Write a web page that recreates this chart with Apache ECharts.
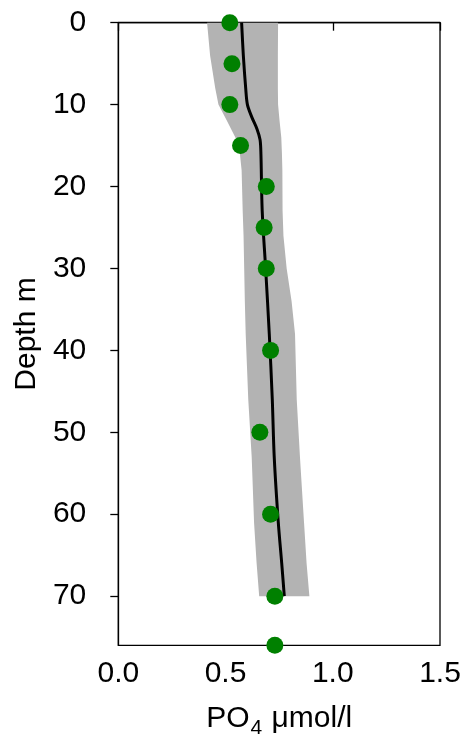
<!DOCTYPE html>
<html>
<head>
<meta charset="utf-8">
<script src="https://cdn.jsdelivr.net/npm/echarts@6/dist/echarts.min.js"></script>
<style>
  html, body { margin: 0; padding: 0; background: #fff; }
  #chart { width: 467px; height: 736px; }
</style>
</head>
<body>
<div id="chart"></div>
<script>
// Axis ticks
const depthTicks = [0, 10, 20, 30, 40, 50, 60, 70];
const po4Ticks = [0, 0.5, 1.0, 1.5];

// Measured phosphate samples
const sampleDepth = [0, 5, 10, 15, 20, 25, 30, 40, 50, 60, 70, 76];
const samplePO4 = [0.52, 0.53, 0.52, 0.57, 0.69, 0.68, 0.69, 0.71, 0.66, 0.71, 0.73, 0.73];

// Fitted profile
const fitDepth = [0, 4, 8, 10, 11.5, 13, 14.3, 16, 23, 30, 38, 46, 53, 61, 66, 70];
const fitPO4 = [0.575, 0.583, 0.594, 0.602, 0.622, 0.647, 0.661, 0.665, 0.671, 0.687, 0.704, 0.718, 0.727, 0.746, 0.762, 0.774];

// Uncertainty band around the fit
const bandDepth = [0, 4, 8, 10, 12, 14, 16, 18, 23, 26, 30, 34, 38, 42, 46, 53, 61, 66, 70];
const bandLow = [0.414, 0.428, 0.452, 0.467, 0.507, 0.546, 0.567, 0.575, 0.580, 0.584, 0.587, 0.590, 0.594, 0.600, 0.606, 0.622, 0.633, 0.645, 0.657];
const bandHigh = [0.745, 0.744, 0.744, 0.745, 0.752, 0.760, 0.763, 0.765, 0.766, 0.770, 0.785, 0.808, 0.824, 0.828, 0.832, 0.847, 0.866, 0.878, 0.891];

const FONT = "'Liberation Sans', Arial, Helvetica, sans-serif";
const chart = echarts.init(document.getElementById('chart'), null, { renderer: 'canvas' });

const axisLineStyle = { color: '#000', width: 1.3 };

chart.setOption({
  animation: false,
  backgroundColor: '#fff',
  grid: {
    left: 118.3, right: 27, top: 22.7, bottom: 90.7,
    containLabel: false,
    outerBoundsMode: 'none',
    show: true, borderColor: '#000', borderWidth: 1.3, backgroundColor: 'transparent'
  },
  xAxis: {
    type: 'value',
    min: 0, max: 1.5, interval: 0.5,
    axisLine: { show: true, lineStyle: axisLineStyle },
    axisTick: { show: true, length: 8, lineStyle: axisLineStyle, customValues: po4Ticks },
    axisLabel: {
      customValues: po4Ticks,
      formatter: v => v.toFixed(1),
      fontFamily: FONT, fontSize: 30, color: '#000', margin: 13
    },
    splitLine: { show: false },
    name: '{t|PO}{s|4}{t| μmol/l}',
    nameLocation: 'middle',
    nameGap: 58,
    nameTextStyle: {
      rich: {
        t: { fontFamily: FONT, fontSize: 30, color: '#000', lineHeight: 34, verticalAlign: 'top' },
        s: { fontFamily: FONT, fontSize: 21, color: '#000', lineHeight: 21, padding: [14, 1, 0, 1], verticalAlign: 'top' }
      }
    }
  },
  yAxis: {
    type: 'value',
    inverse: true,
    min: 0, max: 76, interval: 10,
    axisLine: { show: true, lineStyle: axisLineStyle },
    axisTick: { show: true, length: 8, lineStyle: axisLineStyle, customValues: depthTicks },
    axisLabel: {
      customValues: depthTicks,
      fontFamily: FONT, fontSize: 30, color: '#000', margin: 32
    },
    splitLine: { show: false },
    name: 'Depth m',
    nameLocation: 'middle',
    nameGap: 77,
    nameRotate: 90,
    nameTextStyle: { fontFamily: FONT, fontSize: 30, color: '#000' }
  },
  series: [
    {
      type: 'custom',
      z: 1,
      silent: true,
      data: bandDepth.map((d, i) => [bandLow[i], d, bandHigh[i]]),
      encode: { x: 0, y: 1 },
      renderItem: function (params, api) {
        if (params.dataIndex !== 0) return null;
        const pts = [];
        for (let i = 0; i < bandDepth.length; i++) pts.push(api.coord([bandLow[i], bandDepth[i]]));
        for (let i = bandDepth.length - 1; i >= 0; i--) pts.push(api.coord([bandHigh[i], bandDepth[i]]));
        return {
          type: 'polygon',
          shape: { points: pts, smooth: 0 },
          style: { fill: '#b3b3b3', stroke: null }
        };
      }
    },
    {
      type: 'line',
      z: 2,
      data: fitDepth.map((d, i) => [fitPO4[i], d]),
      showSymbol: false,
      symbol: 'none',
      smooth: 0.3,
      lineStyle: { color: '#000', width: 3 }
    },
    {
      type: 'scatter',
      z: 5,
      clip: false,
      data: sampleDepth.map((d, i) => [samplePO4[i], d]),
      symbolSize: 17,
      itemStyle: { color: '#008000', opacity: 1 }
    }
  ]
});
</script>
</body>
</html>
